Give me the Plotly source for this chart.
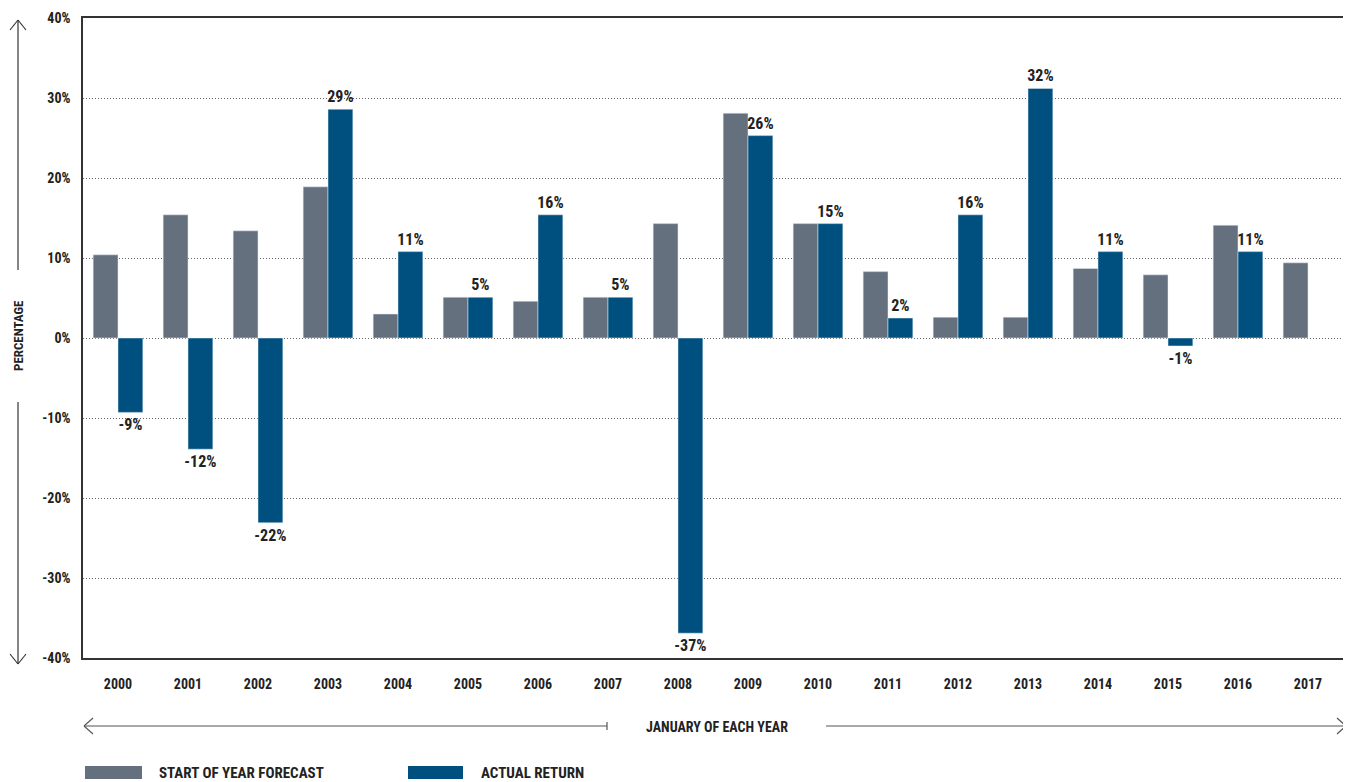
import plotly.graph_objects as go

# --- DATA ---
years = [str(y) for y in range(2000, 2018)]
forecast = [10.4, 15.4, 13.4, 18.9, 3.0, 5.1, 4.6, 5.1, 14.3, 28.1, 14.3, 8.3, 2.6, 2.6, 8.7, 7.9, 14.1, 9.4]
actual = [-9.3, -13.9, -23.1, 28.6, 10.8, 5.1, 15.4, 5.1, -36.9, 25.3, 14.3, 2.5, 15.4, 31.2, 10.8, -1.0, 10.8, None]
actual_labels = ["-9%", "-12%", "-22%", "29%", "11%", "5%", "16%", "5%", "-37%", "26%", "15%", "2%", "16%", "32%", "11%", "-1%", "11%", ""]
y_ticks = [-40, -30, -20, -10, 0, 10, 20, 30, 40]

GRAY = "#65707f"
BLUE = "#00507f"
FONT = "Roboto Condensed, Roboto"

# the page body adds an 8px offset; target pixel coords are corrected by OFF
OFF = 8
L, R, T, B = 83, 1343, 18, 658


def px(x):
    return (x - L) / (R - L)


def py(y):
    return (B - y) / (B - T)


fig = go.Figure()
fig.add_trace(go.Bar(x=years, y=forecast, marker_color=GRAY, name="START OF YEAR FORECAST"))
fig.add_trace(go.Bar(
    x=years, y=actual, marker_color=BLUE, name="ACTUAL RETURN",
    text=actual_labels, textposition="outside", cliponaxis=False, constraintext="none",
    textfont=dict(family=FONT, size=16, color="#222", weight="bold"),
))

shapes = []
annotations = []


def seg(x0, y0, x1, y1, color="#333"):
    shapes.append(dict(type="line", xref="paper", yref="paper",
                       x0=px(x0), y0=py(y0), x1=px(x1), y1=py(y1),
                       line=dict(color=color, width=1.2)))


def label(text, x, y, size, angle=0, anchor="center"):
    annotations.append(dict(text=text, xref="paper", yref="paper", x=px(x), y=py(y),
                            xanchor=anchor, yanchor="middle", showarrow=False, textangle=angle,
                            font=dict(family=FONT, size=size, color="#222", weight="bold")))


# vertical axis arrows
seg(18, 20, 18, 270)
seg(18, 20, 10, 30)
seg(18, 20, 26, 30)
seg(18, 402, 18, 664)
seg(18, 664, 10, 654)
seg(18, 664, 26, 654)
label("PERCENTAGE", 18, 336, 13, angle=-90)

# horizontal arrows
seg(84, 726, 607, 726, "#555")
seg(84, 726, 93, 718, "#555")
seg(84, 726, 93, 734, "#555")
seg(607, 722, 607, 730, "#555")
seg(826, 726, 1346, 726, "#555")
seg(1346, 726, 1337, 718, "#555")
seg(1346, 726, 1337, 734, "#555")
label("JANUARY OF EACH YEAR", 717, 727, 14)

# legend
for x0, x1, col, text, tx in [(85, 142, GRAY, "START OF YEAR FORECAST", 157),
                              (408, 463, BLUE, "ACTUAL RETURN", 479)]:
    shapes.append(dict(type="rect", xref="paper", yref="paper", x0=px(x0), x1=px(x1),
                       y0=py(766), y1=py(779), fillcolor=col, line=dict(width=0)))
    label(text, tx, 773, 15, anchor="left")

fig.update_layout(
    width=1351, height=782,
    margin=dict(l=L - OFF, r=1351 - R + OFF, t=T - OFF, b=782 - B + OFF, autoexpand=False),
    plot_bgcolor="white", paper_bgcolor="white",
    barmode="group", bargap=0.29, bargroupgap=0,
    showlegend=False,
    font=dict(family=FONT, color="#222"),
    shapes=shapes, annotations=annotations,
)
fig.update_xaxes(showline=True, linecolor="#333", linewidth=1.5, mirror=True,
                 tickfont=dict(size=14, weight="bold"), ticks="", ticklabelstandoff=12)
fig.update_yaxes(range=[-40, 40], tickvals=y_ticks, ticktext=[f"{v}%" for v in y_ticks],
                 showline=True, linecolor="#333", linewidth=1.5,
                 showgrid=True, gridcolor="#666", griddash="1px,2px", gridwidth=1,
                 zeroline=False, tickfont=dict(size=14, weight="bold"), ticklabelstandoff=8)

fig.write_html("out.html")
